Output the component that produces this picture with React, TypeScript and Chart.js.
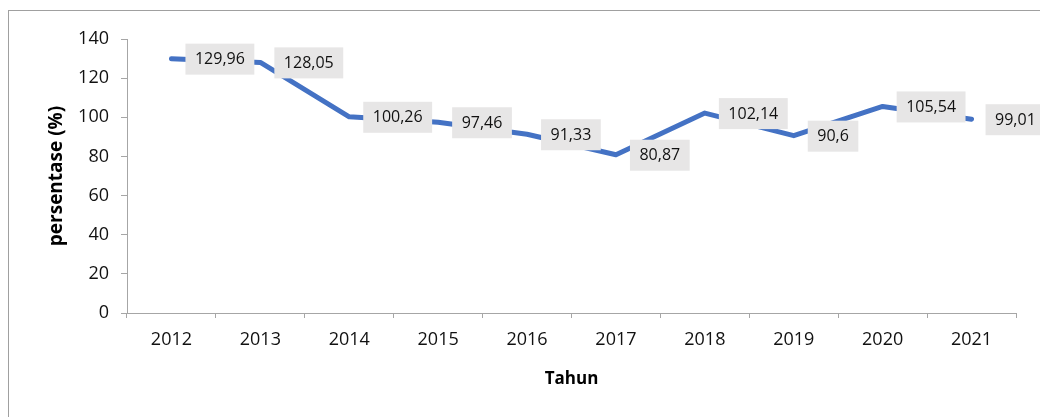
import React, { useEffect, useRef } from "react";
import { Chart, registerables } from "chart.js";

Chart.register(...registerables);

const years = ["2012", "2013", "2014", "2015", "2016", "2017", "2018", "2019", "2020", "2021"];
const values = [129.96, 128.05, 100.26, 97.46, 91.33, 80.87, 102.14, 90.6, 105.54, 99.01];
const valueLabels = ["129,96", "128,05", "100,26", "97,46", "91,33", "80,87", "102,14", "90,6", "105,54", "99,01"];
const yMin = 0;
const yMax = 140;
const yStep = 20;
const yTitle = "persentase (%)";
const xTitle = "Tahun";

const FONT = "'Open Sans', Lato, sans-serif";
const AXIS_COLOR = "#a6a6a6";
const TEXT_COLOR = "#111111";

const boxLabels = {
  id: "boxLabels",
  afterDatasetsDraw(chart: any) {
    const ctx = chart.ctx;
    const meta = chart.getDatasetMeta(0);
    ctx.save();
    ctx.font = `16px ${FONT}`;
    ctx.textBaseline = "middle";
    ctx.textAlign = "left";
    meta.data.forEach((pt: any, i: number) => {
      const text = valueLabels[i];
      const w = ctx.measureText(text).width;
      const bw = w + 19;
      const bh = 31;
      const bx = pt.x + 14;
      const by = pt.y - bh / 2 + 0.5;
      ctx.fillStyle = "#e7e6e6";
      ctx.fillRect(bx, by, bw, bh);
      ctx.fillStyle = TEXT_COLOR;
      ctx.fillText(text, bx + 9.5, pt.y + 1);
    });
    ctx.restore();
  },
};

export default function App() {
  const ref = useRef<HTMLCanvasElement | null>(null);

  useEffect(() => {
    document.body.style.margin = "0";
    document.body.style.overflow = "hidden";
    const canvas = ref.current;
    if (!canvas) return;
    const chart = new Chart(canvas, {
      type: "line",
      data: {
        labels: years,
        datasets: [
          {
            data: values,
            borderColor: "#4472c4",
            backgroundColor: "#4472c4",
            borderWidth: 5,
            pointRadius: 0,
            pointHoverRadius: 0,
            tension: 0,
            borderCapStyle: "round",
            borderJoinStyle: "round",
            fill: false,
          },
        ],
      },
      options: {
        responsive: false,
        animation: false,
        events: [],
        layout: { padding: { top: 39, right: 24, bottom: 0, left: 0 } },
        plugins: {
          legend: { display: false },
          tooltip: { enabled: false },
          title: { display: false },
        },
        scales: {
          x: {
            type: "category",
            offset: true,
            grid: {
              offset: true,
              drawOnChartArea: false,
              tickLength: 5,
              color: AXIS_COLOR,
            },
            border: { color: AXIS_COLOR, width: 1 },
            ticks: {
              font: { family: FONT, size: 18 },
              color: TEXT_COLOR,
              padding: 11,
              maxRotation: 0,
              autoSkip: false,
            },
            title: {
              display: true,
              text: xTitle,
              font: { family: FONT, size: 17, weight: "bold" },
              color: "#000",
              padding: { top: 0, bottom: 28 },
            },
            afterFit: (s: any) => {
              s.height = 104;
            },
          },
          y: {
            min: yMin,
            max: yMax,
            grid: {
              drawOnChartArea: false,
              tickLength: 6,
              color: AXIS_COLOR,
            },
            border: { color: AXIS_COLOR, width: 1 },
            ticks: {
              stepSize: yStep,
              font: { family: FONT, size: 18 },
              color: TEXT_COLOR,
              padding: 12,
            },
            title: {
              display: true,
              text: yTitle,
              font: { family: FONT, size: 19, weight: "bold" },
              color: "#000",
              padding: { top: 45, bottom: 0 },
            },
            afterFit: (s: any) => {
              s.width = 127;
            },
          },
        },
      },
      plugins: [boxLabels],
    } as any);
    if ((document as any).fonts && (document as any).fonts.ready) {
      (document as any).fonts.ready.then(() => chart.update());
    }
    return () => chart.destroy();
  }, []);

  return (
    <div style={{ position: "fixed", left: 0, top: 0, width: 1040, height: 417, overflow: "hidden", background: "#fff" }}>
      <div
        style={{
          position: "absolute",
          left: 8,
          top: 10,
          width: 1100,
          height: 500,
          border: "1px solid #a0a0a0",
          boxSizing: "border-box",
        }}
      />
      <canvas ref={ref} width={1040} height={417} style={{ position: "absolute", left: 0, top: 0, width: 1040, height: 417 }} />
    </div>
  );
}
